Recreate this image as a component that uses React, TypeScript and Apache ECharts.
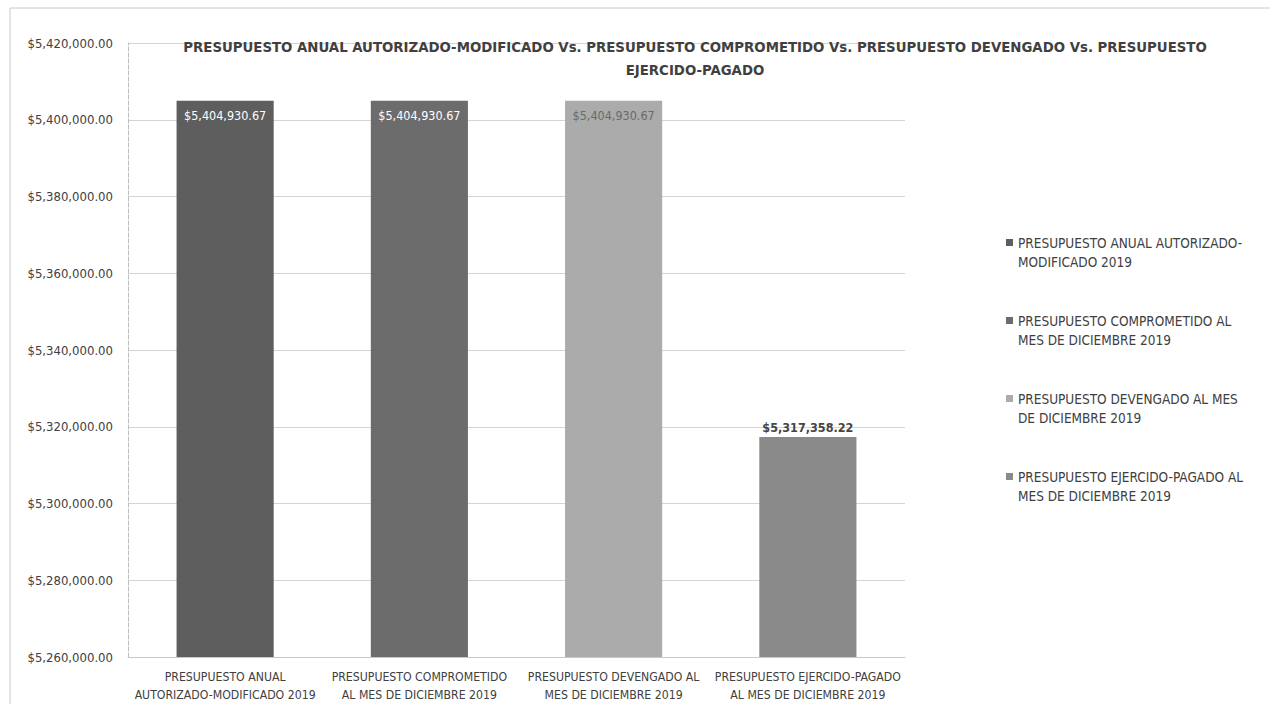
import React, { useEffect, useRef } from "react";
import * as echarts from "echarts";

const categories = [
  "PRESUPUESTO ANUAL\nAUTORIZADO-MODIFICADO 2019",
  "PRESUPUESTO COMPROMETIDO\nAL MES DE DICIEMBRE 2019",
  "PRESUPUESTO DEVENGADO AL\nMES DE DICIEMBRE 2019",
  "PRESUPUESTO EJERCIDO-PAGADO\nAL MES DE DICIEMBRE 2019",
];
const seriesNames = [
  "PRESUPUESTO ANUAL AUTORIZADO-MODIFICADO 2019",
  "PRESUPUESTO COMPROMETIDO AL MES DE DICIEMBRE 2019",
  "PRESUPUESTO DEVENGADO AL MES DE DICIEMBRE 2019",
  "PRESUPUESTO EJERCIDO-PAGADO AL MES DE DICIEMBRE 2019",
];
const legendLabels = [
  "PRESUPUESTO ANUAL AUTORIZADO-\nMODIFICADO 2019",
  "PRESUPUESTO COMPROMETIDO AL\nMES DE DICIEMBRE 2019",
  "PRESUPUESTO DEVENGADO AL MES\nDE DICIEMBRE 2019",
  "PRESUPUESTO EJERCIDO-PAGADO AL\nMES DE DICIEMBRE 2019",
];
const values = [5404930.67, 5404930.67, 5404930.67, 5317358.22];
const colors = ["#5e5e5e", "#6c6c6c", "#ababab", "#8a8a8a"];
const labelColors = ["#ffffff", "#ffffff", "#6a6a6a", "#454545"];
const labelPositions = ["insideTop", "insideTop", "insideTop", "top"];
const yMin = 5260000;
const yMax = 5420000;
const yStep = 20000;
const title =
  "PRESUPUESTO ANUAL AUTORIZADO-MODIFICADO Vs. PRESUPUESTO COMPROMETIDO Vs. PRESUPUESTO DEVENGADO Vs. PRESUPUESTO\nEJERCIDO-PAGADO";

const money = (v: number) =>
  "$" +
  v.toLocaleString("en-US", { minimumFractionDigits: 2, maximumFractionDigits: 2 });

const FONT = "'DejaVu Sans Condensed', 'Liberation Sans', sans-serif";

// legend marker aligned with the first text line (tall box, square at top)
const LEGEND_ICON =
  "path://M0,0L0.01,0L0.01,0.01Z M0,6L7,6L7,13L0,13Z M0,38L0.01,38L0.01,38.01Z";

export default function App() {
  const ref = useRef<HTMLDivElement>(null);
  useEffect(() => {
    if (!ref.current) return;
    const chart = echarts.init(ref.current, undefined, { renderer: "svg" });
    const series = seriesNames.map((name, i) => ({
      name,
      type: "bar" as const,
      stack: "all",
      barWidth: "50%",
      itemStyle: { color: colors[i] },
      label: {
        show: true,
        position: labelPositions[i] as any,
        distance: i === 3 ? 3 : 8,
        color: labelColors[i],
        fontSize: 12.5,
        fontFamily: FONT,
        fontWeight: i === 3 ? "bold" : "normal",
        formatter: (p: any) => money(p.value),
      },
      data: categories.map((_, j) => (j === i ? values[i] : null)),
    }));
    chart.setOption({
      animation: false,
      backgroundColor: "#ffffff",
      textStyle: { fontFamily: FONT },
      title: {
        text: title,
        left: 690,
        top: 30,
        textAlign: "center",
        textStyle: {
          fontFamily: FONT,
          fontSize: 14.8,
          fontWeight: "bold",
          color: "#404040",
          lineHeight: 23,
        },
      },
      legend: {
        orient: "vertical",
        left: 1001,
        top: 228,
        itemWidth: 7,
        itemHeight: 38,
        itemGap: 40,
        icon: LEGEND_ICON,
        data: seriesNames,
        formatter: (name: string) => legendLabels[seriesNames.indexOf(name)],
        textStyle: {
          fontFamily: FONT,
          fontSize: 13.5,
          color: "#404040",
          lineHeight: 19,
        },
      },
      grid: { left: 128, right: 365, top: 43, bottom: 42 },
      xAxis: {
        type: "category",
        data: categories,
        axisTick: { show: false },
        axisLine: { lineStyle: { color: "#c8c8c8" } },
        axisLabel: {
          interval: 0,
          margin: 11,
          color: "#404040",
          fontSize: 12.2,
          lineHeight: 18,
          fontFamily: FONT,
        },
      },
      yAxis: {
        type: "value",
        min: yMin,
        max: yMax,
        interval: yStep,
        axisLine: { show: true, lineStyle: { color: "#bdbdbd", type: "dashed" } },
        axisTick: { show: false },
        splitLine: { lineStyle: { color: "#d4d4d4" } },
        axisLabel: {
          margin: 15,
          color: "#404040",
          fontSize: 13,
          fontFamily: FONT,
          formatter: (v: number) => money(v),
        },
      },
      graphic: [
        {
          type: "rect",
          shape: { x: 10, y: 8, width: 1270, height: 720 },
          style: { fill: "none", stroke: "#c8c8c8", lineWidth: 1 },
          silent: true,
        },
      ],
      series,
    });
    return () => chart.dispose();
  }, []);
  return (
    <div
      ref={ref}
      style={{ position: "absolute", left: 0, top: 0, width: 1270, height: 704 }}
    />
  );
}
